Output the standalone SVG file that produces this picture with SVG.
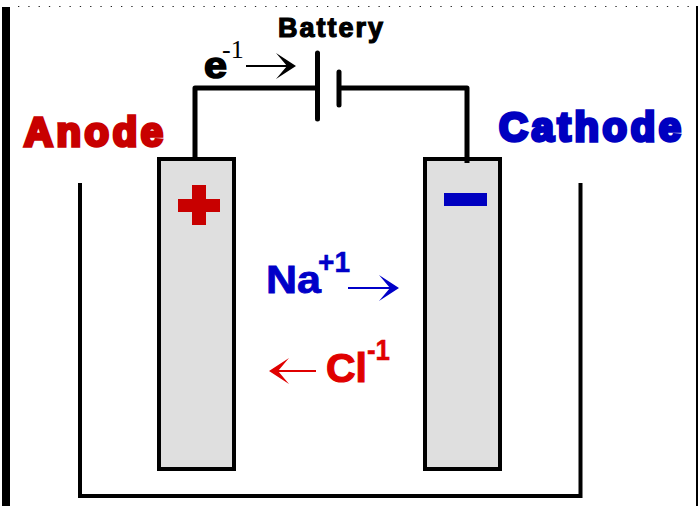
<svg xmlns="http://www.w3.org/2000/svg" width="698" height="506" viewBox="0 0 698 506">
<style>
text{font-family:"Liberation Sans",Arial,sans-serif;font-weight:bold}
.wire{fill:none;stroke:#000;stroke-width:5;stroke-linejoin:round}
.plate{fill:none;stroke:#000;stroke-width:5;stroke-linecap:round}
.cell{fill:#dfdfdf;stroke:#000;stroke-width:4}
.tank{fill:none;stroke:#000;stroke-width:4}
.red{fill:#c80000;stroke:#c80000;stroke-linejoin:miter}
.blue{fill:#0000c0;stroke:#0000c0;stroke-linejoin:miter}
.arr{fill:none;stroke-width:2}
</style>
<rect width="698" height="506" fill="#fff"/>
<rect x="2" y="7" width="8" height="499" fill="#000"/>
<rect x="696" y="6" width="2" height="500" fill="#000"/>
<line x1="18" y1="6.500" x2="690" y2="6.500" stroke="#222" stroke-width="1" stroke-dasharray="1.300 9"/>
<g id="tank"><path class="tank" d="M80 183V496H580.500V183"/></g>
<g id="anode-electrode"><rect class="cell" x="159" y="159" width="75" height="310"/><path d="M178 199h14v-14h14v14h14v13h-14v13h-14v-13h-14z" fill="#c80000"/></g>
<g id="cathode-electrode"><rect class="cell" x="425" y="159" width="75" height="310"/><rect x="444" y="193" width="43" height="13" fill="#0000c0"/></g>
<g id="connectors">
<path class="wire" d="M195 159V88H317"/>
<path class="wire" d="M339 88H467V163"/>
<path class="arr" stroke="#000" d="M246 66H294"/>
<path fill="#000" d="M276 53L296 66L276 79L287 66Z"/>
<path class="arr" stroke="#0000c8" d="M348 288H396"/>
<path fill="#0000c8" d="M379 275L399 288L379 301L390 288Z"/>
<path class="arr" stroke="#e00000" d="M272 371H316"/>
<path fill="#e00000" d="M289 358L269 371L289 384L278 371Z"/>
</g>
<g id="battery">
<line class="plate" x1="317.500" y1="53" x2="317.500" y2="119"/>
<line class="plate" x1="339" y1="72" x2="339" y2="105"/>
<text x="278" y="37" font-size="27" textLength="105" lengthAdjust="spacing" stroke="#000" stroke-width="1.200">Battery</text>
</g>
<g id="anode-label"><text class="red" x="24" y="146" font-size="40" stroke-width="3.500" textLength="139" lengthAdjust="spacing">Anode</text></g>
<g id="cathode-label"><text class="blue" x="499" y="141" font-size="40" stroke-width="3.500" textLength="182" lengthAdjust="spacing">Cathode</text></g>
<g id="electron-label">
<text x="204" y="78" font-size="36" stroke="#000" stroke-width="1.600" textLength="23" lengthAdjust="spacingAndGlyphs">e</text>
<text x="222" y="58" font-size="26" style="font-family:'Liberation Serif',serif;font-weight:normal" fill="#000">-1</text>
</g>
<g id="sodium-label">
<text x="266" y="293" font-size="38" fill="#0000c8" stroke="#0000c8" stroke-width="0.800" textLength="55" lengthAdjust="spacingAndGlyphs">Na</text>
<text x="318" y="272" font-size="29" fill="#0000c8" stroke="#0000c8" stroke-width="0.500" textLength="32" lengthAdjust="spacingAndGlyphs">+1</text>
</g>
<g id="chloride-label">
<text x="326" y="382" font-size="41" fill="#e00000" stroke="#e00000" stroke-width="1.200" textLength="41" lengthAdjust="spacingAndGlyphs">Cl</text>
<text x="367" y="360" font-size="29" fill="#e00000" stroke="#e00000" stroke-width="0.500" textLength="23" lengthAdjust="spacingAndGlyphs">-1</text>
</g>
</svg>
